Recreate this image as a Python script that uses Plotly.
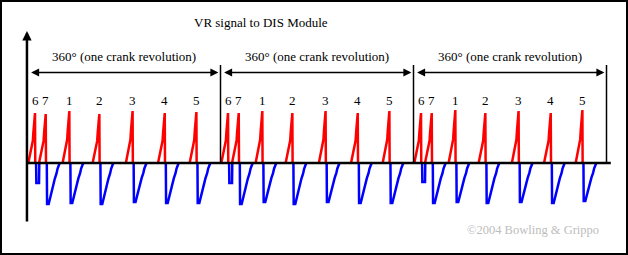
import plotly.graph_objects as go

# ---------------- data ----------------
title_text = "VR signal to DIS Module"
revolution_label = "360° (one crank revolution)"
copyright_text = "©2004 Bowling & Grippo"

revolution_starts = [0, 360, 720]                    # crank degrees
pulse_labels = ["6", "7", "1", "2", "3", "4", "5"]
pulse_angles = [14, 34, 78, 134, 196, 256, 315]      # peak position within a revolution (deg)

# peak (positive) and trough (negative) amplitude of every pulse, per revolution
peak_values = [
    [5.0, 4.9, 5.2, 4.9, 5.2, 5.0, 5.1],
    [5.0, 5.0, 5.2, 5.0, 5.2, 5.0, 5.2],
    [5.0, 5.0, 5.3, 5.0, 5.2, 5.0, 5.3],
]
trough_values = [
    [-2.0, -4.1, -4.0, -4.1, -3.9, -4.0, -4.0],
    [-2.0, -4.1, -3.9, -4.1, -3.9, -4.0, -4.0],
    [-1.9, -4.0, -3.9, -4.0, -3.9, -4.0, -3.8],
]

# pulse waveform shape (offset in deg from peak, fraction of amplitude)
rise_offsets = [-12.5, -10, -8.5, -5.5, -4, -3, -1.5, 0, 0.5]
rise_fracs = [0, 0.12, 0.2, 0.4, 0.45, 0.62, 0.85, 1.0, 0]
decay_offsets = [2, 2.5, 5.5, 9, 11, 13, 15, 17, 20, 22, 26]
decay_fracs = [0, 1.0, 1.0, 0.8, 0.72, 0.58, 0.5, 0.38, 0.26, 0.14, 0]
notch_offsets = [2, 2.5, 7.5, 8]
notch_fracs = [0, 1.0, 1.0, 0]
sync_label = "6"

# ---------------- build traces ----------------
red_x, red_y, blue_x, blue_y = [], [], [], []
for r, start in enumerate(revolution_starts):
    for i, (lab, ang) in enumerate(zip(pulse_labels, pulse_angles)):
        p = start + ang
        pk = peak_values[r][i]
        tr = trough_values[r][i]
        red_x += [p + o for o in rise_offsets] + [None]
        red_y += [pk * f for f in rise_fracs] + [None]
        if lab == sync_label:
            offs, fr = notch_offsets, notch_fracs
        else:
            offs, fr = decay_offsets, decay_fracs
        blue_x += [p + o for o in offs] + [None]
        blue_y += [tr * f for f in fr] + [None]

fig = go.Figure()
fig.add_trace(go.Scatter(x=red_x, y=red_y, mode="lines",
                         line=dict(color="#ff0000", width=2.5), hoverinfo="skip"))
fig.add_trace(go.Scatter(x=blue_x, y=blue_y, mode="lines",
                         line=dict(color="#0000ff", width=2.5), hoverinfo="skip"))

serif = "Liberation Serif, Times New Roman, serif"
annotations = []
shapes = []

# title
annotations.append(dict(text=title_text, xref="paper", yref="paper", x=261 / 628, y=1 - 22 / 255,
                        showarrow=False, xanchor="center", yanchor="middle",
                        font=dict(family=serif, size=13, color="#000000")))
# copyright
annotations.append(dict(text=copyright_text, xref="paper", yref="paper", x=533 / 628, y=1 - 230 / 255,
                        showarrow=False, xanchor="center", yanchor="middle",
                        font=dict(family=serif, size=12.5, color="#bdbdbd")))

dim_y = 9.05
for start in revolution_starts:
    # revolution label
    annotations.append(dict(text=revolution_label, x=start + 180, y=10.7, xref="x", yref="y",
                            showarrow=False, xanchor="center", yanchor="middle",
                            font=dict(family=serif, size=13, color="#000000")))
    # double arrow
    annotations.append(dict(text="", x=start + 356, y=dim_y, ax=start + 4, ay=dim_y,
                            xref="x", yref="y", axref="x", ayref="y",
                            showarrow=True, arrowside="end+start", arrowhead=2, startarrowhead=2,
                            arrowsize=1.0, startarrowsize=1.0, arrowwidth=1.6, arrowcolor="#000000",
                            standoff=0, startstandoff=0))
    # separator line at end of revolution
    shapes.append(dict(type="line", xref="x", yref="y", x0=start + 360, x1=start + 360,
                       y0=0, y1=9.8, line=dict(color="#000000", width=1.5)))
    # pulse number labels
    for lab, ang in zip(pulse_labels, pulse_angles):
        annotations.append(dict(text=lab, x=start + ang, y=6.3, xref="x", yref="y",
                                showarrow=False, xanchor="center", yanchor="middle",
                                font=dict(family=serif, size=13, color="#000000")))

# vertical axis with arrow
annotations.append(dict(text="", x=-1, y=13.2, ax=-1, ay=-6.0, xref="x", yref="y", axref="x", ayref="y",
                        showarrow=True, arrowhead=2, arrowsize=0.75, arrowwidth=2.5,
                        arrowcolor="#000000", standoff=0))
# zero line
shapes.append(dict(type="line", xref="x", yref="y", x0=-1, x1=1088, y0=0, y1=0,
                   line=dict(color="#000000", width=2.6)))
# frame
shapes.append(dict(type="rect", xref="paper", yref="paper", x0=1 / 628, x1=1 - 1 / 628,
                   y0=1 / 255, y1=1 - 1 / 255, line=dict(color="#000000", width=2)))

W, H = 628, 255
px_per_deg = 193 / 360
x0_px = 27.5
zero_px = 163
px_per_unit = 10
fig.update_layout(
    width=W, height=H, margin=dict(l=0, r=0, t=0, b=0),
    paper_bgcolor="#ffffff", plot_bgcolor="#ffffff", showlegend=False,
    xaxis=dict(visible=False, range=[-x0_px / px_per_deg, (W - x0_px) / px_per_deg], fixedrange=True),
    yaxis=dict(visible=False, range=[-(H - zero_px) / px_per_unit, zero_px / px_per_unit], fixedrange=True),
    annotations=annotations, shapes=shapes,
)
fig.write_html("out.html")
